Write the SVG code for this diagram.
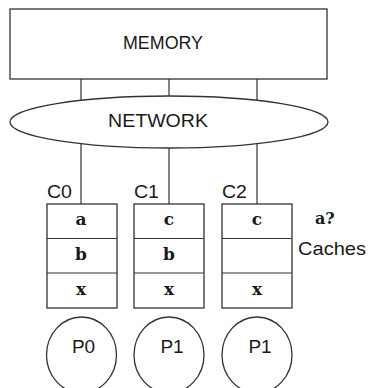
<svg xmlns="http://www.w3.org/2000/svg" width="369" height="388" viewBox="0 0 369 388">
<style>
.shape{fill:#fff;stroke:#333;stroke-width:1.3}
.line{stroke:#333;stroke-width:1.2;fill:none}
.sans{font-family:"Liberation Sans",Arial,sans-serif;fill:#1a1a1a}
.ser{font-family:"DejaVu Serif","Liberation Serif",serif;font-weight:bold;fill:#1a1a1a;font-size:17px;text-anchor:middle}
</style>
<rect width="369" height="388" fill="#fff"/>
<g id="connectors">
<line class="line" x1="81" y1="79" x2="81" y2="101"/>
<line class="line" x1="169" y1="79" x2="169" y2="96"/>
<line class="line" x1="257" y1="79" x2="257" y2="101"/>
<line class="line" x1="81" y1="143" x2="81" y2="204"/>
<line class="line" x1="169" y1="148" x2="169" y2="204"/>
<line class="line" x1="257" y1="143" x2="257" y2="204"/>
</g>
<g id="memory">
<rect class="shape" x="10" y="9" width="317" height="70"/>
<text class="sans" x="123" y="49" font-size="19" textLength="80" lengthAdjust="spacingAndGlyphs">MEMORY</text>
</g>
<g id="network">
<ellipse class="shape" cx="169" cy="122" rx="159" ry="26"/>
<text class="sans" x="108" y="127" font-size="19" textLength="100" lengthAdjust="spacingAndGlyphs">NETWORK</text>
</g>
<g id="cache-c0">
<text class="sans" x="47" y="198" font-size="18" textLength="25" lengthAdjust="spacingAndGlyphs">C0</text>
<rect class="shape" x="47" y="204" width="70" height="104"/>
<line class="line" x1="47" y1="238.5" x2="117" y2="238.5"/>
<line class="line" x1="47" y1="273" x2="117" y2="273"/>
<text class="ser" x="81" y="225">a</text>
<text class="ser" x="81" y="260">b</text>
<text class="ser" x="81" y="295">x</text>
</g>
<g id="cache-c1">
<text class="sans" x="134" y="198" font-size="18" textLength="25" lengthAdjust="spacingAndGlyphs">C1</text>
<rect class="shape" x="134" y="204" width="70" height="104"/>
<line class="line" x1="134" y1="238.5" x2="204" y2="238.5"/>
<line class="line" x1="134" y1="273" x2="204" y2="273"/>
<text class="ser" x="169" y="225">c</text>
<text class="ser" x="169" y="260">b</text>
<text class="ser" x="169" y="295">x</text>
</g>
<g id="cache-c2">
<text class="sans" x="222" y="198" font-size="18" textLength="25" lengthAdjust="spacingAndGlyphs">C2</text>
<rect class="shape" x="222" y="204" width="70" height="104"/>
<line class="line" x1="222" y1="238.5" x2="292" y2="238.5"/>
<line class="line" x1="222" y1="273" x2="292" y2="273"/>
<text class="ser" x="257" y="225">c</text>
<text class="ser" x="257" y="295">x</text>
</g>
<g id="query">
<text class="ser" x="315" y="224" style="text-anchor:start;font-size:16px">a?</text>
<text class="sans" x="298" y="255" font-size="19" textLength="68" lengthAdjust="spacingAndGlyphs">Caches</text>
</g>
<g id="p0">
<ellipse class="shape" cx="81.5" cy="355" rx="35" ry="38"/>
<text class="sans" x="83.5" y="353" font-size="19" text-anchor="middle">P0</text>
</g>
<g id="p1a">
<ellipse class="shape" cx="169" cy="355" rx="35" ry="38"/>
<text class="sans" x="172" y="353" font-size="19" text-anchor="middle">P1</text>
</g>
<g id="p1b">
<ellipse class="shape" cx="257" cy="355" rx="35" ry="38"/>
<text class="sans" x="260" y="353" font-size="19" text-anchor="middle">P1</text>
</g>
</svg>
